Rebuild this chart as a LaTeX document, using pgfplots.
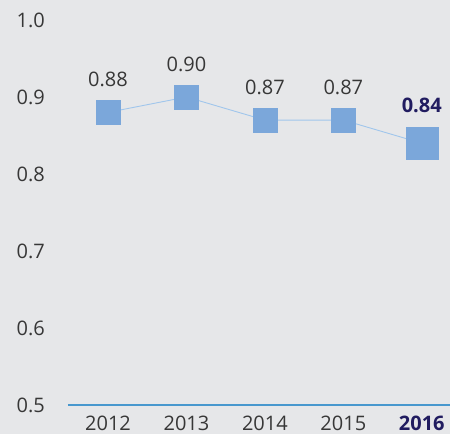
\documentclass[border=0pt]{standalone}
\usepackage{fontspec}
\setmainfont{Open Sans}
\usepackage{pgfplots}
\pgfplotsset{compat=1.18}
\definecolor{bggray}{RGB}{230,231,233}
\definecolor{markblue}{RGB}{123,167,218}
\definecolor{lineblue}{RGB}{160,198,236}
\definecolor{axisblue}{RGB}{72,152,206}
\definecolor{navy}{RGB}{33,28,96}
\definecolor{textgray}{RGB}{55,55,55}

\begin{document}
\begin{tikzpicture}
\fill[bggray] (0,0) rectangle (450pt,434pt);
\path[use as bounding box] (0,0) rectangle (450pt,434pt);
\begin{axis}[
    at={(68pt,29pt)}, anchor=south west,
    scale only axis,
    width=382pt, height=385pt,
    xmin=-0.51, xmax=4.36,
    ymin=0.5, ymax=1.0,
    axis line style={draw=none},
    axis x line*=bottom,
    hide y axis,
    major tick length=0pt,
    xtick={0,1,2,3,4},
    xticklabels={2012,2013,2014,2015,{\bfseries\color{navy}2016}},
    font=\fontsize{20}{24}\selectfont,
    tick label style={text=textgray, font=\fontsize{20}{24}\selectfont},
    xticklabel style={anchor=north, yshift=-7pt},
    clip=false,
]
\draw[axisblue, line width=1.5pt] (axis cs:-0.51,0.5) -- (axis cs:4.36,0.5);
% y labels
\addplot[draw=none, mark=none, nodes near coords, point meta=explicit symbolic,
    every node near coord/.style={anchor=east, text=textgray, xshift=-23pt, inner sep=0pt}]
    coordinates {(-0.51,0.5) [0.5] (-0.51,0.6) [0.6] (-0.51,0.7) [0.7] (-0.51,0.8) [0.8] (-0.51,0.9) [0.9] (-0.51,1.0) [1.0]};
\addplot[lineblue, line width=0.9pt, mark=none] coordinates {
    (0,0.88) (1,0.90) (2,0.87) (3,0.87) (4,0.84)
};
\addplot[markblue, only marks, mark=square*, mark size=12pt, mark options={fill=markblue, draw=markblue},
    nodes near coords, point meta=explicit symbolic,
    every node near coord/.style={anchor=center, yshift=33pt, text=textgray, inner sep=0pt}]
    coordinates {(0,0.88) [0.88] (1,0.90) [0.90] (2,0.87) [0.87] (3,0.87) [0.87]};
\addplot[markblue, only marks, mark=square*, mark size=16pt, mark options={fill=markblue, draw=markblue},
    nodes near coords, point meta=explicit symbolic,
    every node near coord/.style={anchor=center, yshift=38pt, text=navy, font=\fontsize{20}{24}\selectfont\bfseries, inner sep=0pt}]
    coordinates {(4,0.84) [0.84]};
\end{axis}
\end{tikzpicture}
\end{document}
